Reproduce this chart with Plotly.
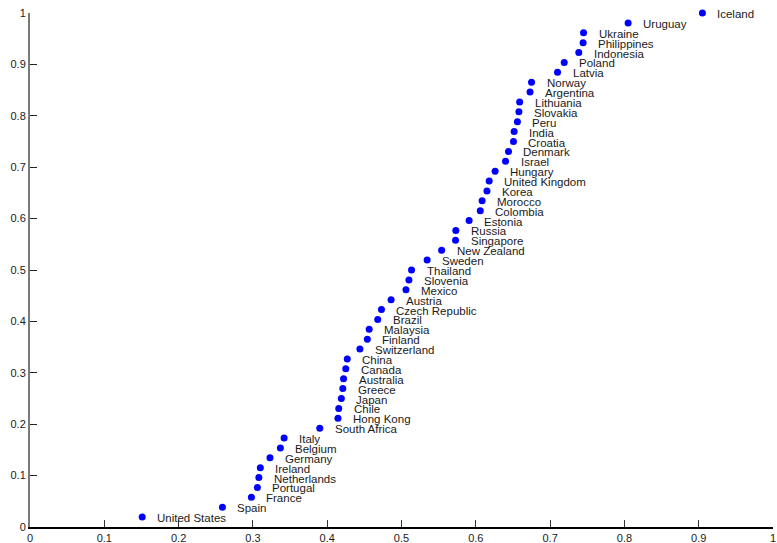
import plotly.graph_objects as go

# Countries in ascending order of score; y is the rank share (rank / count)
countries = [
    "United States", "Spain", "France", "Portugal", "Netherlands", "Ireland",
    "Germany", "Belgium", "Italy", "South Africa", "Hong Kong", "Chile",
    "Japan", "Greece", "Australia", "Canada", "China", "Switzerland",
    "Finland", "Malaysia", "Brazil", "Czech Republic", "Austria", "Mexico",
    "Slovenia", "Thailand", "Sweden", "New Zealand", "Singapore", "Russia",
    "Estonia", "Colombia", "Morocco", "Korea", "United Kingdom", "Hungary",
    "Israel", "Denmark", "Croatia", "India", "Peru", "Slovakia",
    "Lithuania", "Argentina", "Norway", "Latvia", "Poland", "Indonesia",
    "Philippines", "Ukraine", "Uruguay", "Iceland",
]

scores = [
    0.151, 0.259, 0.298, 0.306, 0.308, 0.310,
    0.323, 0.337, 0.342, 0.390, 0.4145, 0.4155,
    0.419, 0.421, 0.422, 0.425, 0.427, 0.444,
    0.454, 0.4565, 0.468, 0.473, 0.486, 0.506,
    0.510, 0.5135, 0.5345, 0.554, 0.5727, 0.5731,
    0.591, 0.606, 0.6085, 0.615, 0.618, 0.626,
    0.640, 0.644, 0.6507, 0.6516, 0.656, 0.658,
    0.659, 0.673, 0.675, 0.710, 0.719, 0.7386,
    0.7444, 0.745, 0.805, 0.905,
]

n = len(countries)
ranks = [(i + 1) / n for i in range(n)]

tick_vals = [0, 0.1, 0.2, 0.3, 0.4, 0.5, 0.6, 0.7, 0.8, 0.9, 1]
tick_text = ["0", "0.1", "0.2", "0.3", "0.4", "0.5", "0.6", "0.7", "0.8", "0.9", "1"]

font_family = "Liberation Sans, Arial, Helvetica, sans-serif"

fig = go.Figure()
fig.add_trace(go.Scatter(
    x=scores,
    y=ranks,
    mode="markers",
    marker=dict(color="#0000ff", size=7, line=dict(width=0)),
    hovertext=countries,
    showlegend=False,
    cliponaxis=False,
))

annotations = [
    dict(
        x=xv, y=yv, text=name, xref="x", yref="y",
        xanchor="left", yanchor="middle", xshift=13, yshift=-1,
        showarrow=False,
        font=dict(family=font_family, size=11.5, color="#1a1a1a"),
    )
    for name, xv, yv in zip(countries, scores, ranks)
]

fig.update_layout(
    width=777,
    height=543,
    margin=dict(l=30, r=4, t=13, b=16, autoexpand=False),
    paper_bgcolor="white",
    plot_bgcolor="white",
    font=dict(family=font_family, size=11, color="#1a1a1a"),
    annotations=annotations,
    xaxis=dict(
        range=[0, 1],
        tickvals=tick_vals,
        ticktext=tick_text,
        ticks="inside",
        ticklen=7,
        tickwidth=1,
        tickcolor="#333333",
        showline=True,
        linecolor="#000000",
        linewidth=1.5,
        showgrid=False,
        zeroline=False,
        automargin=False,
        tickfont=dict(size=11),
        ticklabelstandoff=0,
    ),
    yaxis=dict(
        range=[0, 1],
        tickvals=tick_vals,
        ticktext=tick_text,
        ticks="inside",
        ticklen=7,
        tickwidth=1,
        tickcolor="#222222",
        showline=True,
        linecolor="#7a7a7a",
        linewidth=2,
        showgrid=False,
        zeroline=False,
        automargin=False,
        tickfont=dict(size=11),
        ticklabelstandoff=0,
    ),
)

fig.write_html("out.html")
